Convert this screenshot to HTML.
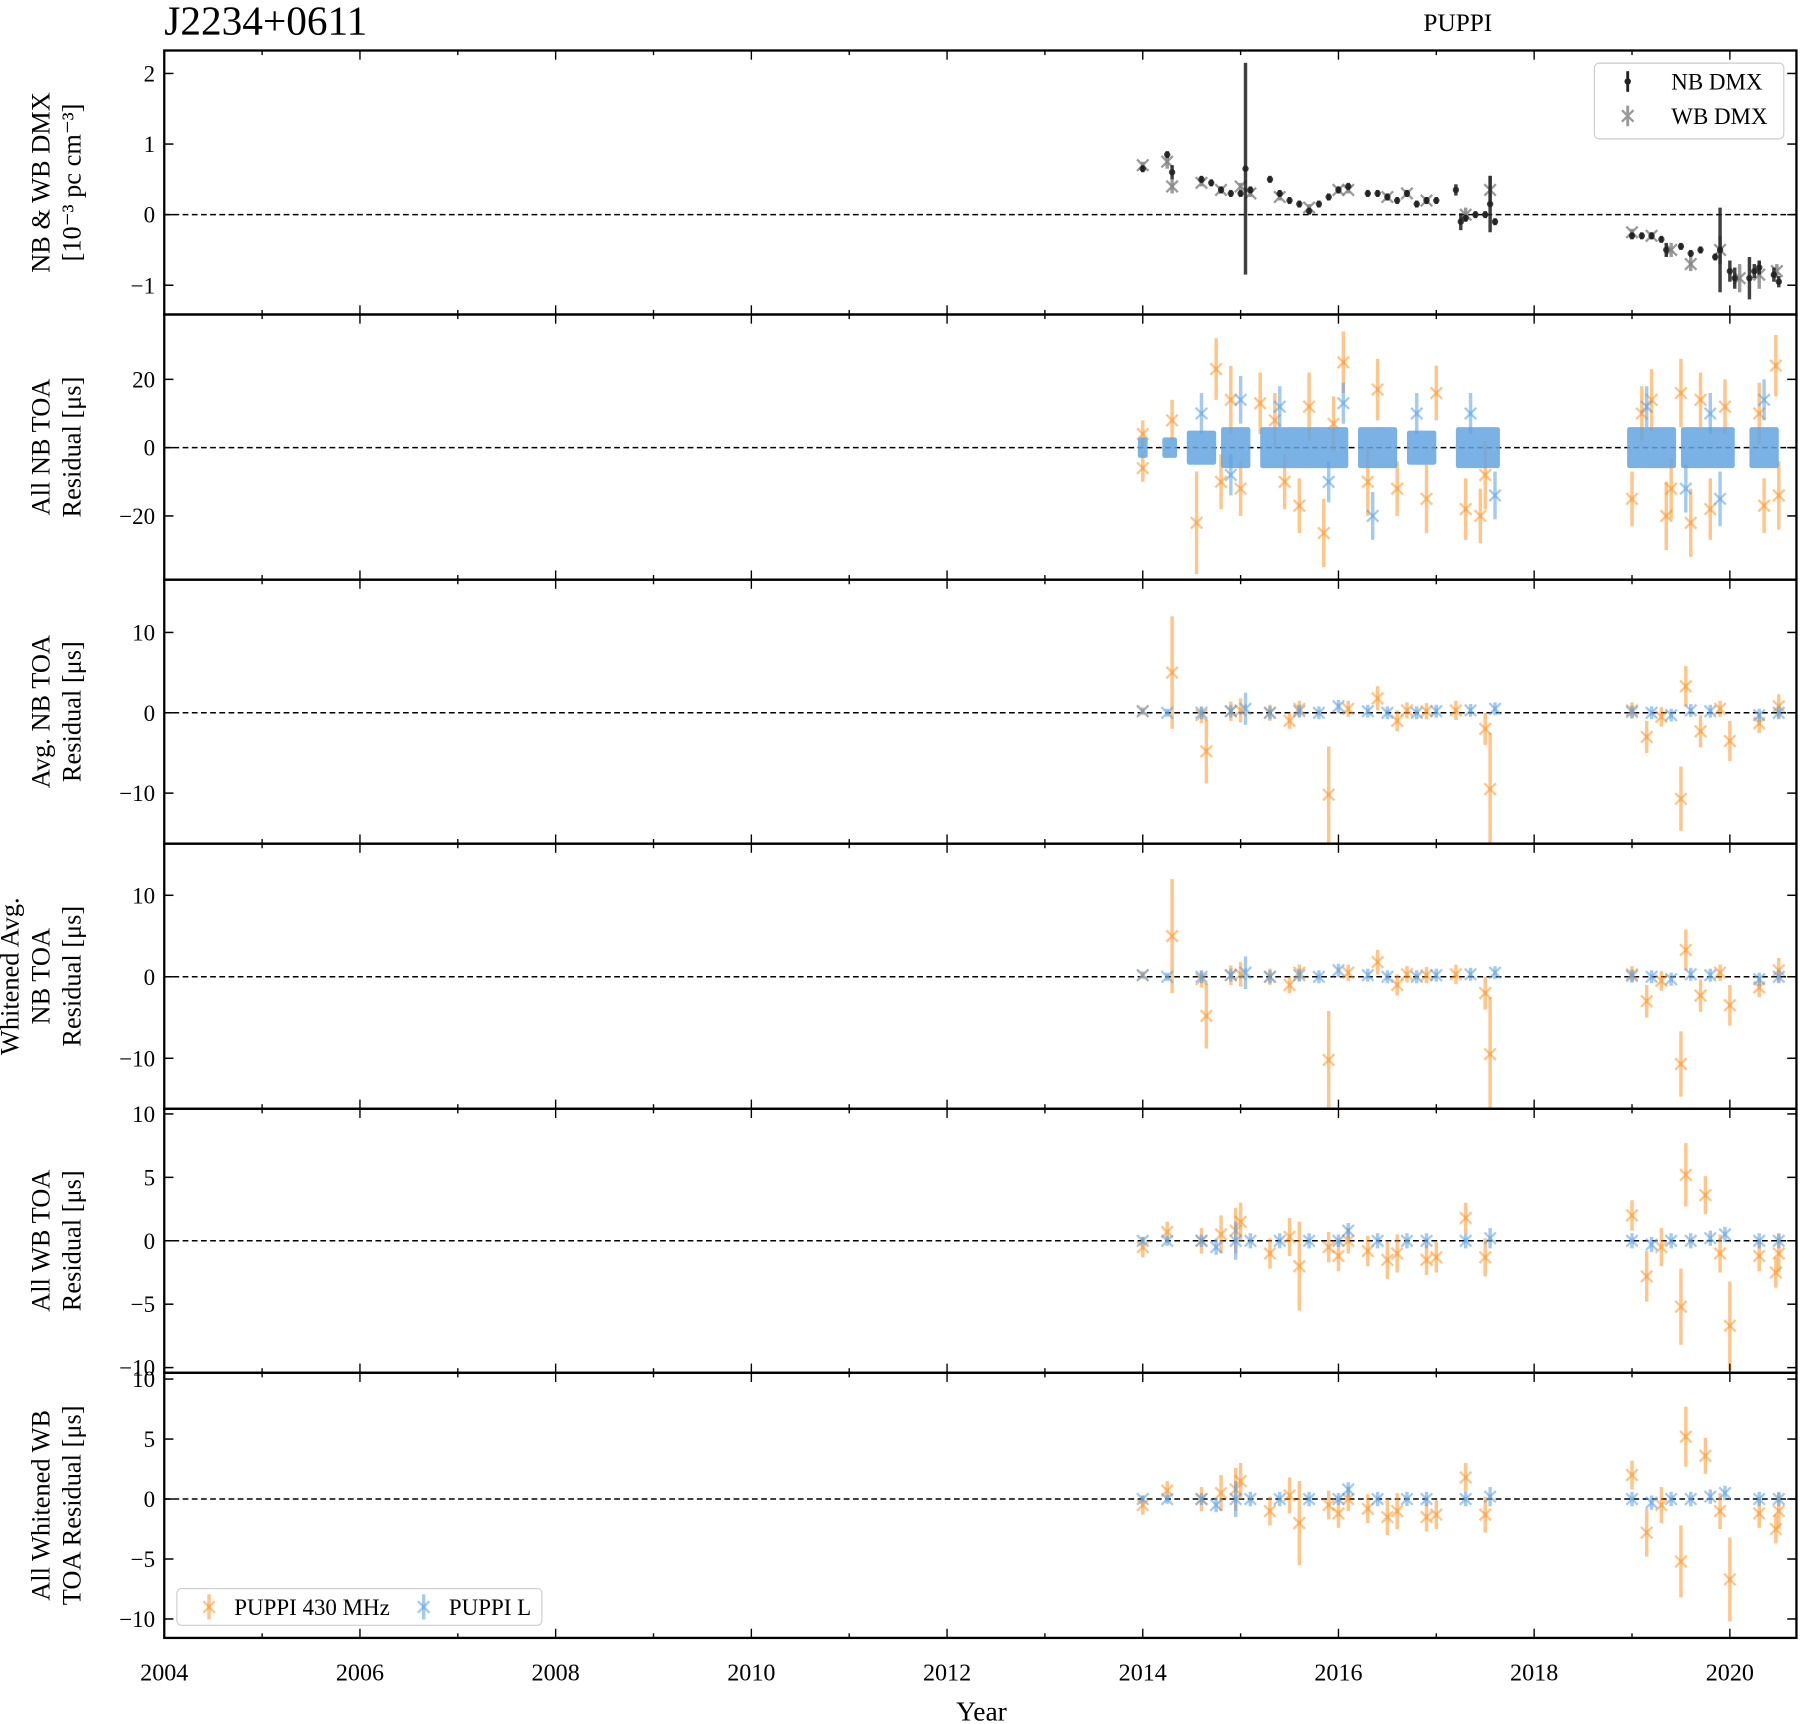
<!DOCTYPE html>
<html><head><meta charset="utf-8"><style>
html,body{margin:0;padding:0;background:#fff}
svg{display:block}
text{font-family:"Liberation Serif","DejaVu Serif",serif;fill:#000}
</style></head><body>
<svg id="fig" width="1800" height="1724" viewBox="0 0 1568 1502" xmlns="http://www.w3.org/2000/svg">
<text x="143" y="30" font-size="36">J2234+0611</text>
<text x="1270" y="27" font-size="22" text-anchor="middle">PUPPI</text>
<text x="855" y="1499" font-size="24" text-anchor="middle">Year</text>
</svg>
<script>
// ---- data ----
const xTicks = [2004,2006,2008,2010,2012,2014,2016,2018,2020];
const dmxNbYear = [2014.0,2014.25,2014.3,2014.6,2014.7,2014.8,2014.9,2015.0,2015.05,2015.1,2015.3,2015.4,2015.5,2015.6,2015.7,2015.8,2015.9,2016.0,2016.1,2016.3,2016.4,2016.5,2016.6,2016.7,2016.8,2016.9,2017.0,2017.2,2017.25,2017.3,2017.4,2017.5,2017.55,2017.6,2019.0,2019.1,2019.2,2019.3,2019.35,2019.5,2019.6,2019.7,2019.85,2019.9,2020.0,2020.05,2020.2,2020.25,2020.3,2020.45,2020.5];
const dmxNbVal = [0.65,0.85,0.6,0.5,0.45,0.35,0.3,0.3,0.65,0.35,0.5,0.3,0.2,0.15,0.05,0.15,0.25,0.35,0.4,0.3,0.3,0.25,0.2,0.3,0.15,0.2,0.2,0.35,-0.1,-0.05,0,0,0.15,-0.1,-0.3,-0.3,-0.3,-0.35,-0.5,-0.45,-0.55,-0.5,-0.6,-0.5,-0.8,-0.9,-0.9,-0.8,-0.75,-0.85,-0.95];
const dmxNbErr = [0.05,0.05,0.1,0.05,0.05,0.05,0.05,0.05,1.5,0.05,0.05,0.05,0.05,0.05,0.05,0.05,0.05,0.05,0.05,0.05,0.05,0.05,0.05,0.05,0.05,0.05,0.05,0.08,0.12,0.05,0.05,0.05,0.4,0.05,0.05,0.05,0.05,0.05,0.1,0.05,0.05,0.05,0.05,0.6,0.15,0.15,0.3,0.1,0.1,0.1,0.08];
const dmxWbYear = [2014.0,2014.25,2014.3,2014.6,2014.8,2015.0,2015.1,2015.4,2015.7,2016.0,2016.1,2016.5,2016.7,2016.9,2017.3,2017.55,2019.0,2019.2,2019.4,2019.6,2019.9,2020.1,2020.3,2020.48];
const dmxWbVal = [0.7,0.75,0.4,0.45,0.35,0.4,0.3,0.25,0.1,0.35,0.35,0.25,0.3,0.2,0.0,0.35,-0.25,-0.3,-0.5,-0.7,-0.5,-0.9,-0.85,-0.8];
const dmxWbErr = [0.05,0.1,0.1,0.05,0.05,0.05,0.05,0.05,0.05,0.05,0.05,0.05,0.05,0.05,0.1,0.2,0.05,0.05,0.1,0.1,0.2,0.2,0.2,0.1];

// Panel 2: dense NB residuals
const nbClusterStart = [2013.95,2014.2,2014.45,2014.8,2015.2,2016.2,2016.7,2017.2,2018.95,2019.5,2020.2];
const nbClusterEnd   = [2014.05,2014.35,2014.75,2015.1,2016.1,2016.6,2017.0,2017.65,2019.45,2020.05,2020.5];
const nbClusterHalf  = [3,3,5,6,6,6,5,6,6,6,6];
const nbOrYear = [2014.0,2014.0,2014.3,2014.55,2014.75,2014.8,2014.9,2015.0,2015.2,2015.35,2015.45,2015.6,2015.7,2015.85,2015.95,2016.05,2016.3,2016.4,2016.6,2016.9,2017.0,2017.3,2017.45,2017.5,2019.0,2019.1,2019.2,2019.35,2019.4,2019.5,2019.6,2019.7,2019.8,2019.95,2020.3,2020.35,2020.47,2020.5];
const nbOrVal  = [-6,4,8,-22,23,-10,14,-12,13,8,-10,-17,12,-25,7,25,-10,17,-12,-15,16,-18,-20,-8,-15,10,14,-20,-12,16,-22,14,-18,12,10,-17,24,-14];
const nbOrErr  = [4,4,6,15,9,8,10,8,9,8,8,8,10,10,8,9,10,9,8,10,8,9,8,10,8,8,9,10,9,10,10,8,9,8,9,8,9,10];
const nbBlYear = [2014.6,2014.9,2015.0,2015.4,2015.9,2016.05,2016.35,2016.8,2017.35,2017.6,2019.15,2019.55,2019.8,2019.9,2020.35];
const nbBlVal  = [10,-8,14,12,-10,13,-20,10,10,-14,12,-12,10,-15,14];
const nbBlErr  = [6,6,7,6,6,6,7,6,6,7,6,7,6,8,6];

// Panel 3/4: averaged NB residuals
const avOrYear = [2014.0,2014.3,2014.6,2014.65,2014.9,2015.0,2015.3,2015.5,2015.6,2015.9,2016.1,2016.4,2016.6,2016.7,2016.9,2017.2,2017.5,2017.55,2019.0,2019.15,2019.3,2019.5,2019.55,2019.7,2019.9,2020.0,2020.3,2020.5];
const avOrVal  = [0.2,5,-0.3,-4.8,0.2,0.3,0,-1,0.5,-10.2,0.5,1.8,-1,0.3,0.2,0.3,-2,-9.5,0.3,-3,-0.5,-10.7,3.3,-2.3,0.5,-3.5,-1.3,0.8];
const avOrErr  = [0.5,7,1,4,1.2,1.5,1,1,1,6,1,1.5,1.3,1,1,1.2,2,7,1,2,1.2,4,2.5,2,1,2.5,1.2,1.5];
const avBlYear = [2014.0,2014.25,2014.6,2014.9,2015.05,2015.3,2015.6,2015.8,2016.0,2016.3,2016.5,2016.8,2017.0,2017.35,2017.6,2019.0,2019.2,2019.4,2019.6,2019.8,2020.3,2020.5];
const avBlVal  = [0.2,0,0,0.2,0.5,0,0.2,0,0.8,0.2,0,0,0.2,0.3,0.5,0.1,0,-0.3,0.3,0.2,-0.3,0];
const avBlErr  = [0.3,0.5,0.8,0.8,2,0.8,0.8,0.8,0.8,0.8,0.8,0.8,0.8,0.8,0.8,0.8,0.8,0.8,0.8,0.8,0.8,0.8];

// Panel 5/6: WB residuals
const wbOrYear = [2014.0,2014.25,2014.6,2014.8,2014.95,2015.0,2015.3,2015.5,2015.6,2015.9,2016.0,2016.1,2016.3,2016.5,2016.6,2016.9,2017.0,2017.3,2017.5,2019.0,2019.15,2019.3,2019.5,2019.55,2019.75,2019.9,2020.0,2020.3,2020.47,2020.5];
const wbOrVal  = [-0.5,0.7,0,0.5,0.8,1.5,-1,0.3,-2,-0.5,-1.2,0,-0.8,-1.5,-1,-1.5,-1.3,1.8,-1.3,2,-2.8,-0.5,-5.2,5.2,3.6,-1,-6.7,-1.2,-2.5,-1];
const wbOrErr  = [0.8,0.8,1,1.5,1.8,1.5,1.2,1.5,3.5,1.2,1.2,1,1.2,1.5,1.5,1.2,1.2,1.2,1.5,1.2,2,1.5,3,2.5,1.5,1.5,3.5,1.2,1.2,1.5];
const wbBlYear = [2014.0,2014.25,2014.6,2014.75,2014.95,2015.1,2015.4,2015.7,2016.0,2016.1,2016.4,2016.7,2016.9,2017.3,2017.55,2019.0,2019.2,2019.4,2019.6,2019.8,2019.95,2020.3,2020.5];
const wbBlVal  = [0,0,0,-0.5,0,0,0,0,0,0.8,0,0,0,0,0.2,0,-0.3,0,0,0.2,0.5,0,0];
const wbBlErr  = [0.3,0.4,0.5,0.6,1.5,0.6,0.6,0.6,0.5,0.6,0.6,0.6,0.6,0.6,0.8,0.6,0.6,0.6,0.6,0.6,0.6,0.6,0.6];

const SVGNS = "http://www.w3.org/2000/svg";
const svg = document.getElementById('fig');
const X0 = 143, X1 = 1565;
function xs(y){ return X0 + (y - 2004) * (1507 - 143) / 16; }
const ORANGE = "rgba(255,140,20,0.5)", BLUE = "rgba(90,160,225,0.55)";
function el(tag, attrs, parent){ const e = document.createElementNS(SVGNS, tag); for (const k in attrs) e.setAttribute(k, attrs[k]); (parent||svg).appendChild(e); return e; }

const panels = [
 {top:44, bot:274, y0:187, ppu:61.5, ticks:[-1,0,1,2], label:["NB & WB DMX","[10\u207B\u00B3 pc cm\u207B\u00B3]"], name:'dmx-panel'},
 {top:274, bot:505, y0:390, ppu:2.975, ticks:[-20,0,20], label:["All NB TOA","Residual [\u03BCs]"], name:'nb-toa-panel'},
 {top:505, bot:735, y0:621, ppu:7.0, ticks:[-10,0,10], label:["Avg. NB TOA","Residual [\u03BCs]"], name:'avg-nb-panel'},
 {top:735, bot:966, y0:851, ppu:7.1, ticks:[-10,0,10], label:["Whitened Avg.","NB TOA","Residual [\u03BCs]"], name:'whitened-avg-nb-panel'},
 {top:966, bot:1196, y0:1081, ppu:11.05, ticks:[-10,-5,0,5,10], label:["All WB TOA","Residual [\u03BCs]"], name:'wb-toa-panel'},
 {top:1196, bot:1427, y0:1306, ppu:10.45, ticks:[-10,-5,0,5,10], label:["All Whitened WB","TOA Residual [\u03BCs]"], name:'whitened-wb-panel'}
];

function errPoints(g, P, years, vals, errs, color, marker, name){
  const ys = v => P.y0 - v * P.ppu;
  years.forEach((yr, i) => {
    const x = xs(yr), y = ys(vals[i]);
    const y1 = Math.max(P.top, ys(vals[i] + errs[i])), y2 = Math.min(P.bot, ys(vals[i] - errs[i]));
    const grp = el('g', {}, g);
    
    
    el('line', {x1:x, x2:x, y1:y1, y2:y2, stroke:color, 'stroke-width':3}, grp);
    if (y > P.top && y < P.bot) {
      if (marker === 'x') {
        el('path', {d:`M${x-5},${y-5}L${x+5},${y+5}M${x-5},${y+5}L${x+5},${y-5}`, stroke:color, 'stroke-width':2, fill:'none'}, grp);
      } else {
        el('circle', {cx:x, cy:y, r:2.8, fill:color}, grp);
      }
    }
  });
}

panels.forEach((P, pi) => {
  const g = el('g', {});
  
  
  const ys = v => P.y0 - v * P.ppu;
  el('line', {x1:X0, x2:X1, y1:P.y0, y2:P.y0, stroke:'#000', 'stroke-width':1.3, 'stroke-dasharray':'5,3'}, g);
  if (pi === 0) {
    errPoints(g, P, dmxWbYear, dmxWbVal, dmxWbErr, 'rgba(130,130,130,0.8)', 'x', 'wb-dmx-point');
    errPoints(g, P, dmxNbYear, dmxNbVal, dmxNbErr, 'rgba(30,30,30,0.85)', 'o', 'nb-dmx-point');
  } else if (pi === 1) {
    errPoints(g, P, nbOrYear, nbOrVal, nbOrErr, ORANGE, 'x', 'puppi-430-point');
    nbClusterStart.forEach((s, i) => {
      const r = el('rect', {x:xs(s), width:xs(nbClusterEnd[i]) - xs(s), y:ys(nbClusterHalf[i]), height:2*nbClusterHalf[i]*P.ppu, rx:2, fill:'rgba(100,165,225,0.85)'}, g);
      
      
    });
    errPoints(g, P, nbBlYear, nbBlVal, nbBlErr, BLUE, 'x', 'puppi-l-point');
  } else if (pi <= 3) {
    errPoints(g, P, avOrYear, avOrVal, avOrErr, ORANGE, 'x', 'puppi-430-point');
    errPoints(g, P, avBlYear, avBlVal, avBlErr, BLUE, 'x', 'puppi-l-point');
  } else {
    errPoints(g, P, wbOrYear, wbOrVal, wbOrErr, ORANGE, 'x', 'puppi-430-point');
    errPoints(g, P, wbBlYear, wbBlVal, wbBlErr, BLUE, 'x', 'puppi-l-point');
  }
  el('rect', {x:X0, y:P.top, width:X1-X0, height:P.bot-P.top, fill:'none', stroke:'#000', 'stroke-width':2}, g);
  P.ticks.forEach(t => {
    const y = ys(t);
    el('line', {x1:X0, x2:X0+8, y1:y, y2:y, stroke:'#000', 'stroke-width':1.3}, g);
    el('line', {x1:X1-8, x2:X1, y1:y, y2:y, stroke:'#000', 'stroke-width':1.3}, g);
    const tx = el('text', {x:X0-8, y:y+7, 'font-size':20, 'text-anchor':'end'}, g);
    tx.textContent = (t < 0 ? '\u2212' + (-t) : String(t));
    
    
  });
  for (let yr = 2004; yr <= 2020.5; yr += 1) {
    const x = xs(yr), len = (yr % 2 === 0) ? 8 : 4;
    el('line', {x1:x, x2:x, y1:P.bot-len, y2:P.bot, stroke:'#000', 'stroke-width':1.2}, g);
    el('line', {x1:x, x2:x, y1:P.top, y2:P.top+len, stroke:'#000', 'stroke-width':1.2}, g);
  }
  const cy = (P.top + P.bot) / 2, n = P.label.length;
  P.label.forEach((s, i) => {
    const lx = 70 - (n - 1 - i) * 27;
    const t = el('text', {x:lx, y:cy, 'font-size':23, 'text-anchor':'middle', transform:`rotate(-90 ${lx} ${cy})`}, g);
    t.textContent = s;
    
    
  });
});
xTicks.forEach(yr => {
  const t = el('text', {x:xs(yr), y:1464, 'font-size':21, 'text-anchor':'middle'});
  t.textContent = String(yr);
  
  
});
const lg1 = el('g', {});


el('rect', {x:1389, y:55, width:165, height:66, rx:4, fill:'#fff', stroke:'#ccc'}, lg1);
el('line', {x1:1418, x2:1418, y1:62, y2:80, stroke:'#222', 'stroke-width':2.5}, lg1);
el('circle', {cx:1418, cy:71, r:2.8, fill:'#222'}, lg1);
el('line', {x1:1418, x2:1418, y1:92, y2:110, stroke:'#999', 'stroke-width':2.5}, lg1);
el('path', {d:'M1413,96L1423,106M1413,106L1423,96', stroke:'#999', 'stroke-width':2}, lg1);
const l1 = el('text', {x:1456, y:78, 'font-size':20}, lg1); l1.textContent = 'NB DMX';
const l2 = el('text', {x:1456, y:108, 'font-size':20}, lg1); l2.textContent = 'WB DMX';
const lg2 = el('g', {});


el('rect', {x:154, y:1384, width:318, height:32, rx:4, fill:'#fff', stroke:'#ccc'}, lg2);
el('line', {x1:182, x2:182, y1:1389, y2:1411, stroke:ORANGE, 'stroke-width':3}, lg2);
el('path', {d:'M177,1395L187,1405M177,1405L187,1395', stroke:ORANGE, 'stroke-width':2}, lg2);
el('line', {x1:369, x2:369, y1:1389, y2:1411, stroke:BLUE, 'stroke-width':3}, lg2);
el('path', {d:'M364,1395L374,1405M364,1405L374,1395', stroke:BLUE, 'stroke-width':2}, lg2);
const l3 = el('text', {x:204, y:1407, 'font-size':20}, lg2); l3.textContent = 'PUPPI 430 MHz';
const l4 = el('text', {x:391, y:1407, 'font-size':20}, lg2); l4.textContent = 'PUPPI L';
</script>
</body></html>
